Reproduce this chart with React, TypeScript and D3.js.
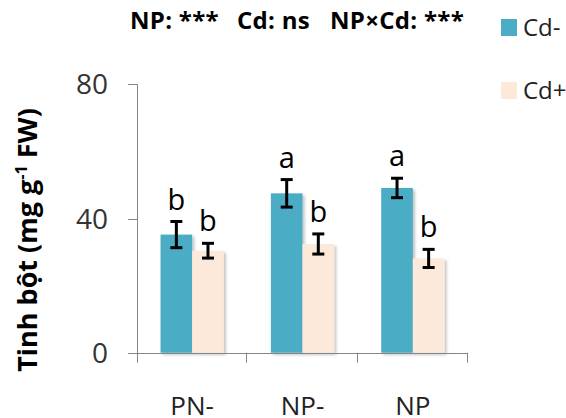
import React, { useEffect, useRef } from "react";
import * as d3 from "d3";

// groups on the x axis
const categories = ["PN-", "NP-", "NP"];
const series = ["Cd-", "Cd+"];
// starch means and their error bars, one per category
const cdMinus = [35.2, 47.5, 49.1];
const cdPlus = [30.4, 32.4, 28.1];
const errMinus = [3.9, 4.1, 2.9];
const errPlus = [2.2, 3.0, 2.7];
const lettersMinus = ["b", "a", "a"];
const lettersPlus = ["b", "b", "b"];
const yTicks = [0, 40, 80];
const colors = ["#4BACC6", "#FDE9D9"];
// two-way ANOVA summary shown above the plot
const anova = ["NP: ***", "Cd: ns", "NP×Cd: ***"];

const W = 566;
const H = 418;
const FONT = "'Open Sans', 'Noto Sans', sans-serif";

const App = () => {
  const svgRef = useRef<SVGSVGElement>(null);

  useEffect(() => {
    const svg = d3.select(svgRef.current);
    svg.selectAll("*").remove();

    const defs = svg.append("defs");
    const f = defs
      .append("filter")
      .attr("id", "shadow")
      .attr("x", "-20%")
      .attr("y", "-20%")
      .attr("width", "150%")
      .attr("height", "150%");
    f.append("feDropShadow")
      .attr("dx", 2)
      .attr("dy", 2)
      .attr("stdDeviation", 1.5)
      .attr("flood-color", "#000")
      .attr("flood-opacity", 0.25);

    const y = d3.scaleLinear().domain([0, 80]).range([352.7, 84.3]);
    const x = d3.scaleBand().domain(categories).range([137, 468]).padding(0);
    const x1 = d3
      .scaleBand()
      .domain(series)
      .range([0, x.bandwidth()])
      .paddingInner(0)
      .paddingOuter(0.745);

    const rows = categories.map((c, i) => ({
      cat: c,
      vals: [
        { s: series[0], v: cdMinus[i], e: errMinus[i], l: lettersMinus[i] },
        { s: series[1], v: cdPlus[i], e: errPlus[i], l: lettersPlus[i] },
      ],
    }));

    // bars
    const g = svg.append("g");
    const groups = g
      .selectAll("g.grp")
      .data(rows)
      .enter()
      .append("g")
      .attr("transform", (d) => `translate(${x(d.cat)},0)`);

    groups
      .selectAll("rect")
      .data((d) => d.vals)
      .enter()
      .append("rect")
      .attr("x", (d) => x1(d.s)!)
      .attr("width", x1.bandwidth())
      .attr("y", (d) => y(d.v))
      .attr("height", (d) => y(0) - y(d.v))
      .attr("fill", (d, i) => colors[i])
      .attr("filter", "url(#shadow)");

    // error bars
    const eb = groups
      .selectAll("g.err")
      .data((d) => d.vals)
      .enter()
      .append("g")
      .attr("stroke", "#000")
      .attr("stroke-width", 3);
    const cx = (d: any) => x1(d.s)! + x1.bandwidth() / 2;
    eb.append("line")
      .attr("x1", cx)
      .attr("x2", cx)
      .attr("y1", (d) => y(d.v + d.e))
      .attr("y2", (d) => y(d.v - d.e));
    eb.append("line")
      .attr("x1", (d) => cx(d) - 6)
      .attr("x2", (d) => cx(d) + 6)
      .attr("y1", (d) => y(d.v + d.e))
      .attr("y2", (d) => y(d.v + d.e));
    eb.append("line")
      .attr("x1", (d) => cx(d) - 6)
      .attr("x2", (d) => cx(d) + 6)
      .attr("y1", (d) => y(d.v - d.e))
      .attr("y2", (d) => y(d.v - d.e));

    // significance letters
    groups
      .selectAll("text.letter")
      .data((d) => d.vals)
      .enter()
      .append("text")
      .attr("x", cx)
      .attr("y", (d) => y(d.v + d.e) - 12)
      .attr("text-anchor", "middle")
      .attr("font-family", FONT)
      .attr("font-size", 29)
      .attr("fill", "#000")
      .text((d) => d.l);

    // y axis
    const axisColor = "#868686";
    svg
      .append("line")
      .attr("x1", 137.5)
      .attr("x2", 137.5)
      .attr("y1", y(80))
      .attr("y2", y(0) + 10)
      .attr("stroke", axisColor);
    svg
      .selectAll("line.ytick")
      .data(yTicks)
      .enter()
      .append("line")
      .attr("x1", 128)
      .attr("x2", 137.5)
      .attr("y1", (d) => Math.round(y(d)) + 0.5)
      .attr("y2", (d) => Math.round(y(d)) + 0.5)
      .attr("stroke", axisColor);
    svg
      .selectAll("text.ytl")
      .data(yTicks)
      .enter()
      .append("text")
      .attr("x", 108)
      .attr("y", (d) => y(d))
      .attr("dy", "0.36em")
      .attr("text-anchor", "end")
      .attr("font-family", FONT)
      .attr("font-size", 28)
      .attr("fill", "#333")
      .text((d) => d);

    // x axis
    svg
      .append("line")
      .attr("x1", 137)
      .attr("x2", 468)
      .attr("y1", Math.round(y(0)) + 0.5)
      .attr("y2", Math.round(y(0)) + 0.5)
      .attr("stroke", axisColor);
    const bounds = categories.map((c) => x(c)! + x.bandwidth());
    svg
      .selectAll("line.xtick")
      .data(bounds)
      .enter()
      .append("line")
      .attr("x1", (d) => Math.round(d) - 0.5)
      .attr("x2", (d) => Math.round(d) - 0.5)
      .attr("y1", y(0))
      .attr("y2", y(0) + 10)
      .attr("stroke", axisColor);
    svg
      .selectAll("text.xtl")
      .data(categories)
      .enter()
      .append("text")
      .attr("x", (d) => x(d)! + x.bandwidth() / 2)
      .attr("y", 415)
      .attr("text-anchor", "middle")
      .attr("font-family", FONT)
      .attr("font-size", 26)
      .attr("fill", "#222")
      .text((d) => d);

    // y axis title, font size fitted to the reference length
    const yt = svg
      .append("text")
      .attr("transform", "translate(37,240) rotate(-90)")
      .attr("text-anchor", "middle")
      .attr("font-family", FONT)
      .attr("font-weight", "bold")
      .attr("fill", "#000");
    yt.append("tspan").text("Tinh bột (mg g");
    yt.append("tspan").attr("class", "sup").attr("dy", -10).text("-1");
    yt.append("tspan").attr("dy", 10).text(" FW)");
    yt.attr("font-size", 24);
    yt.select(".sup").attr("font-size", 15);
    const len = (yt.node() as SVGTextElement).getComputedTextLength();
    const fs = Math.min(27, (24 * 296) / len);
    yt.attr("font-size", fs);
    yt.select(".sup").attr("font-size", fs * 0.6);

    // header
    const hx = [130, 237, 330];
    svg
      .selectAll("text.hd")
      .data(anova)
      .enter()
      .append("text")
      .attr("x", (d, i) => hx[i])
      .attr("y", 29)
      .attr("font-family", FONT)
      .attr("font-size", 24)
      .attr("font-weight", "bold")
      .attr("letter-spacing", 0.3)
      .attr("fill", "#000")
      .style("white-space", "pre")
      .text((d) => d);

    // legend
    const leg = svg
      .selectAll("g.leg")
      .data(series)
      .enter()
      .append("g")
      .attr("transform", (d, i) => `translate(501,${19 + i * 63})`);
    leg
      .append("rect")
      .attr("width", 16)
      .attr("height", 17)
      .attr("fill", (d, i) => colors[i]);
    leg
      .append("text")
      .attr("x", 22)
      .attr("y", 17)
      .attr("font-family", FONT)
      .attr("font-size", 24)
      .attr("fill", "#222")
      .text((d) => d);
  }, []);

  return (
    <svg
      ref={svgRef}
      width={W}
      height={H}
      style={{ position: "absolute", left: 0, top: 0, background: "#fff" }}
    ></svg>
  );
};

export default App;
